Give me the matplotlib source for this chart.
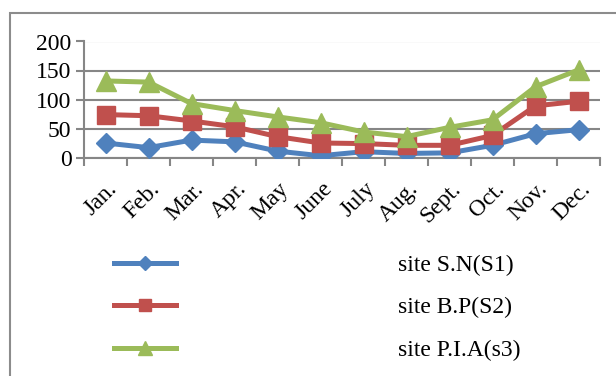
import numpy as np
import matplotlib.pyplot as plt
import matplotlib.transforms as mtrans
from matplotlib.patches import Rectangle

months = ["Jan.", "Feb.", "Mar.", "Apr.", "May", "June", "July", "Aug.",
          "Sept.", "Oct.", "Nov.", "Dec."]
site_s1 = [25, 17, 30, 27, 11, 3, 10, 7, 8, 21, 41, 48]
site_s2 = [74, 72, 63, 53, 36, 25, 24, 21, 21, 38, 89, 97]
site_s3 = [132, 130, 93, 81, 70, 60, 44, 36, 52, 65, 122, 151]
labels = ["site S.N(S1)", "site B.P(S2)", "site P.I.A(s3)"]

blue = "#4F81BD"
red = "#C0504D"
green = "#9BBB59"
grid_c = "#868686"

plt.rcParams["font.family"] = ["Liberation Serif", "DejaVu Serif"]

W, H = 616, 376
fig = plt.figure(figsize=(W / 100, H / 100), dpi=100)

# outer chart frame (cut off at right and bottom)
fig.patches.append(Rectangle((10 / W, -0.1), 1.2, (H - 13) / H + 0.1,
                             transform=fig.transFigure, fill=False,
                             edgecolor="#8c8c8c", linewidth=1.5))

ax = fig.add_axes([84 / W, 1 - 157.5 / H, (600 - 84) / W, (157.5 - 41.5) / H])

x = np.arange(len(months))
ax.plot(x, site_s1, color=blue, lw=3.6, marker="D", ms=10.5, label=labels[0], zorder=3)
ax.plot(x, site_s2, color=red, lw=3.6, marker="s", ms=13, label=labels[1], zorder=4)
ax.plot(x, site_s3, color=green, lw=3.6, marker="^", ms=14, label=labels[2], zorder=5)

ax.set_xlim(-0.5, len(months) - 0.5)
ax.set_ylim(0, 200)
ax.set_yticks([0, 50, 100, 150, 200])
ax.yaxis.grid(True, color=grid_c, lw=1.5)
ax.set_axisbelow(True)

for s in ["top", "right"]:
    ax.spines[s].set_visible(False)
for s in ["left", "bottom"]:
    ax.spines[s].set_color(grid_c)
    ax.spines[s].set_linewidth(1.5)
    ax.spines[s].set_clip_on(False)

ax.tick_params(axis="y", length=6, width=1.5, color=grid_c, labelsize=17, pad=3)
ax.set_xticks(np.arange(len(months) + 1) - 0.5)
ax.set_xticklabels([])
ax.tick_params(axis="x", length=6, width=1.5, color=grid_c)
ax.set_xticks(x, minor=True)
ax.set_xticklabels(months, minor=True, rotation=45, ha="right",
                   rotation_mode="anchor", fontsize=17)
ax.tick_params(axis="x", which="minor", length=0, pad=15)
shift = mtrans.ScaledTranslation(0.01, 0, fig.dpi_scale_trans)
for lab in ax.get_xticklabels(minor=True):
    lab.set_transform(lab.get_transform() + shift)

leg = fig.legend(loc="upper left", bbox_to_anchor=(93 / W, 1 - 233 / H),
                 frameon=False, fontsize=17, handlelength=2.6, handletextpad=9.4,
                 labelspacing=0.89, markerscale=0.68)

fig.savefig("out.png", dpi=100)
